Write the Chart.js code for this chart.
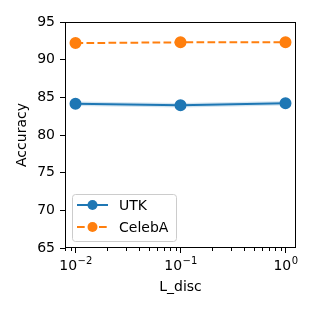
<!DOCTYPE html>
<html>
<head>
<meta charset="utf-8">
<script src="https://cdn.jsdelivr.net/npm/chart.js@4"></script>
<style>
  html, body { margin: 0; padding: 0; background: #fff; }
  #wrap { width: 314px; height: 314px; }
</style>
</head>
<body>
<div id="wrap"><canvas id="grafico" width="314" height="314"></canvas></div>
<script>
const lDisc = [0.01, 0.1, 1];
const utk = [84.15, 83.95, 84.2];
const utkUpper = [84.45, 84.25, 84.5];
const utkLower = [83.85, 83.65, 83.9];
const celeba = [92.2, 92.3, 92.3];
const yTicks = [65, 70, 75, 80, 85, 90, 95];
const xTickExp = {0.01: '\u22122', 0.1: '\u22121', 1: '0'};

const BLUE = '#1f77b4';
const ORANGE = '#ff7f0e';
const FONT = 'DejaVu Sans';

const pts = (ys) => lDisc.map((x, i) => ({x: x, y: ys[i]}));

// frame, minor log ticks, 10^n labels and legend drawn like matplotlib
const extras = {
  id: 'extras',
  afterDraw(chart) {
    const c = chart.ctx;
    const a = chart.chartArea;
    const xs = chart.scales.x;
    c.save();
    c.strokeStyle = '#000';
    c.lineWidth = 1;
    c.strokeRect(a.left + 0.5, a.top + 0.5, a.right - a.left - 1, a.bottom - a.top - 1);
    // minor ticks
    for (let d = -3; d <= 0; d++) {
      for (let m = 2; m <= 9; m++) {
        const v = m * Math.pow(10, d);
        const px = xs.getPixelForValue(v);
        if (px < a.left || px > a.right) continue;
        c.beginPath();
        c.moveTo(Math.round(px) + 0.5, a.bottom);
        c.lineTo(Math.round(px) + 0.5, a.bottom + 3);
        c.stroke();
      }
    }
    // major tick labels 10^n
    c.fillStyle = '#000';
    c.textBaseline = 'alphabetic';
    c.textAlign = 'left';
    lDisc.forEach(v => {
      const px = xs.getPixelForValue(v);
      c.font = '14px "' + FONT + '"';
      const w1 = c.measureText('10').width;
      c.font = '10px "' + FONT + '"';
      const w2 = c.measureText(xTickExp[v]).width;
      const x0 = px - (w1 + w2) / 2;
      c.font = '14px "' + FONT + '"';
      c.fillText('10', x0, 270);
      c.font = '10px "' + FONT + '"';
      c.fillText(xTickExp[v], x0 + w1 + 0.5, 264);
    });
    // legend
    const lx = 72, ly = 194, lw = 104, lh = 47;
    c.fillStyle = 'rgba(255,255,255,0.8)';
    c.strokeStyle = '#cccccc';
    c.beginPath();
    c.roundRect(lx + 0.5, ly + 0.5, lw, lh, 3);
    c.fill();
    c.stroke();
    const rows = [
      {label: 'UTK', color: BLUE, dash: [], y: 205},
      {label: 'CelebA', color: ORANGE, dash: [7.7, 3.3], y: 227}
    ];
    rows.forEach(r => {
      c.strokeStyle = r.color;
      c.lineWidth = 2;
      c.setLineDash(r.dash);
      c.beginPath();
      c.moveTo(77, r.y);
      c.lineTo(108, r.y);
      c.stroke();
      c.setLineDash([]);
      c.fillStyle = r.color;
      c.beginPath();
      c.arc(92.5, r.y, 5, 0, Math.PI * 2);
      c.fill();
      c.fillStyle = '#000';
      c.font = '14px "' + FONT + '"';
      c.textBaseline = 'middle';
      c.textAlign = 'left';
      c.fillText(r.label, 119, r.y + 1);
    });
    c.restore();
  }
};

new Chart(document.getElementById('grafico').getContext('2d'), {
  type: 'line',
  data: {
    datasets: [
      {label: 'UTK band', data: pts(utkUpper), borderWidth: 0, pointRadius: 0,
       backgroundColor: 'rgba(31,119,180,0.2)', fill: '+1', tension: 0},
      {label: 'UTK band low', data: pts(utkLower), borderWidth: 0, pointRadius: 0, fill: false},
      {label: 'UTK', data: pts(utk), borderColor: BLUE, backgroundColor: BLUE,
       borderWidth: 2, pointRadius: 5, pointHoverRadius: 5, fill: false, tension: 0},
      {label: 'CelebA', data: pts(celeba), borderColor: ORANGE, backgroundColor: ORANGE,
       borderWidth: 2, borderDash: [7.7, 3.3], pointRadius: 5, pointHoverRadius: 5,
       fill: false, tension: 0}
    ]
  },
  options: {
    responsive: false,
    animation: false,
    layout: { padding: { left: 14, right: 18, top: 22, bottom: 18 } },
    plugins: { legend: { display: false }, tooltip: { enabled: false } },
    scales: {
      x: {
        type: 'logarithmic',
        min: Math.pow(10, -2.1),
        max: Math.pow(10, 0.1),
        afterBuildTicks: (s) => { s.ticks = lDisc.map(v => ({value: v})); },
        afterFit: (s) => { s.height = 48; },
        ticks: { autoSkip: false, maxRotation: 0, callback: () => '' },
        grid: { display: true, drawOnChartArea: false, tickLength: 5, color: '#000' },
        border: { display: false },
        title: { display: true, text: 'L_disc', color: '#000',
                 font: {family: FONT, size: 14}, padding: {top: 0, bottom: 0} }
      },
      y: {
        min: 65, max: 95,
        afterBuildTicks: (s) => { s.ticks = yTicks.map(v => ({value: v})); },
        afterFit: (s) => { s.width = 51; },
        ticks: { color: '#000', font: {family: FONT, size: 14}, padding: 5 },
        grid: { display: true, drawOnChartArea: false, tickLength: 5, color: '#000' },
        border: { display: false },
        title: { display: true, text: 'Accuracy', color: '#000',
                 font: {family: FONT, size: 14}, padding: {top: 0, bottom: 0} }
      }
    }
  },
  plugins: [extras]
});
</script>
</body>
</html>
